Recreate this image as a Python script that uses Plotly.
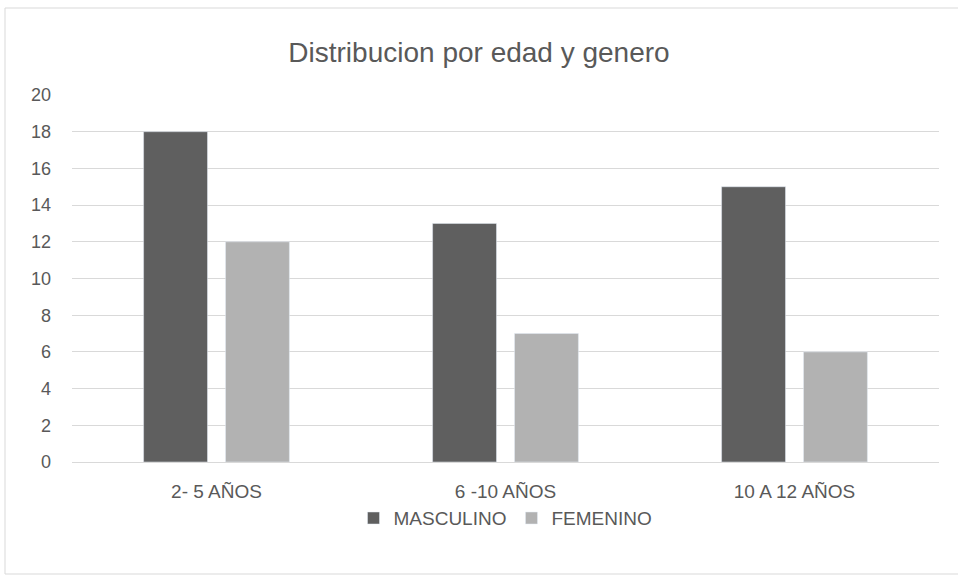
import plotly.graph_objects as go

categories = ["2- 5 AÑOS", "6 -10 AÑOS", "10 A 12 AÑOS"]
masculino = [18, 13, 15]
femenino = [12, 7, 6]
y_ticks = list(range(0, 21, 2))

fig = go.Figure()
fig.add_trace(go.Bar(name="MASCULINO", x=categories, y=masculino, marker_color="#5f5f5f"))
fig.add_trace(go.Bar(name="FEMENINO", x=categories, y=femenino, marker_color="#b2b2b2"))

font_family = "Liberation Sans, Arial, sans-serif"
fig.update_layout(
    width=958, height=580,
    margin=dict(l=72, r=19, t=95, b=118),
    paper_bgcolor="white", plot_bgcolor="white",
    barmode="group", bargap=0.433, bargroupgap=0.22,
    title=dict(text="Distribucion por edad y genero", x=0.5, xanchor="center",
               y=1 - 52/580, yref="container", yanchor="middle",
               font=dict(family=font_family, size=28, color="#595959")),
    font=dict(family=font_family, size=19, color="#595959"),
    xaxis=dict(showgrid=False, showline=True, linecolor="#d9d9d9", linewidth=1,
               ticks="", ticklabelstandoff=12, tickfont=dict(size=19, color="#595959")),
    yaxis=dict(range=[0, 20], tickvals=y_ticks, showgrid=True, gridcolor="#d9d9d9",
               gridwidth=1, zeroline=False, ticks="", ticklabelstandoff=20,
               tickfont=dict(size=18, color="#595959")),
    legend=dict(orientation="h", x=0.5, xanchor="center", y=-0.153, yanchor="middle",
                font=dict(size=19, color="#595959"), itemwidth=30),
    shapes=[dict(type="rect", xref="paper", yref="paper", x0=-67/867, x1=1.1,
                 y0=-112/367, y1=1+87/367, line=dict(color="#d9d9d9", width=1))],
)

fig.write_html("out.html")
